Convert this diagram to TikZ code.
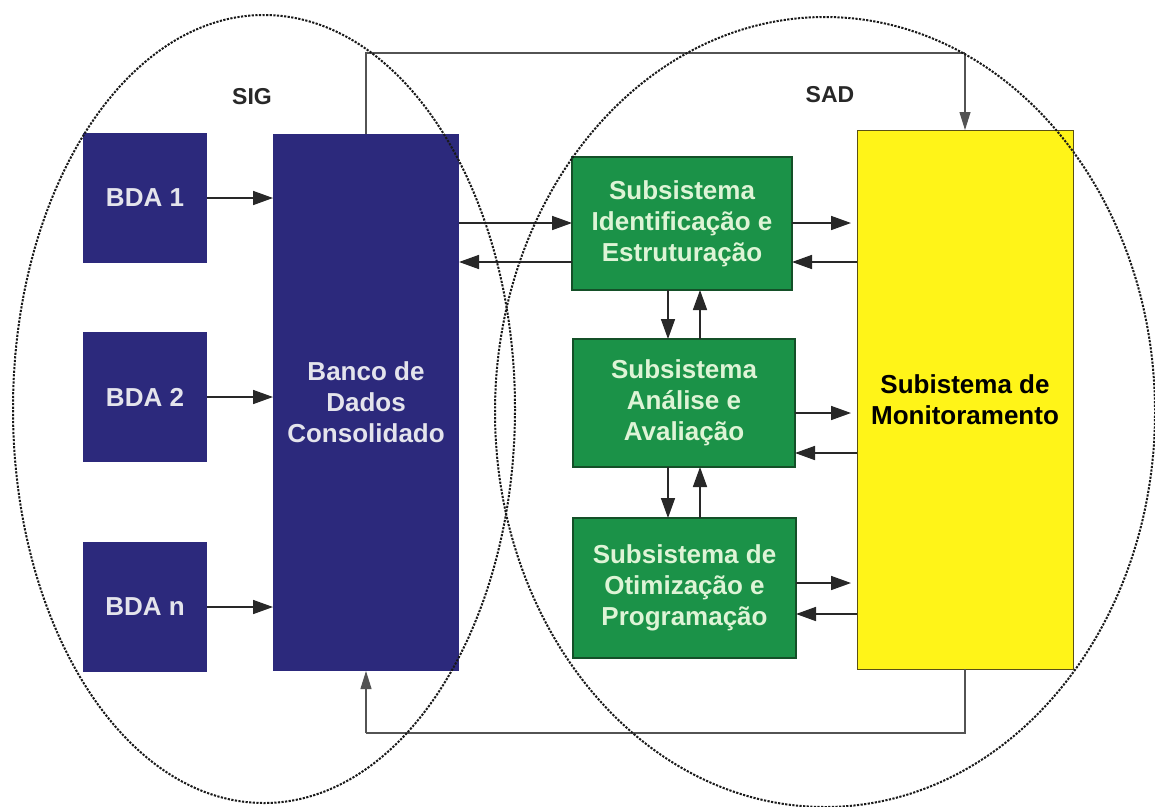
\documentclass[tikz,border=0pt]{standalone}
\usepackage{fontspec}
\setmainfont{Liberation Sans}
\usetikzlibrary{arrows.meta}

\definecolor{navybox}{RGB}{44,41,124}
\definecolor{greenbox}{RGB}{27,146,72}
\definecolor{greenedge}{RGB}{20,80,40}
\definecolor{yellowbox}{RGB}{255,244,24}
\definecolor{yellowedge}{RGB}{90,80,20}
\definecolor{lighttxt}{RGB}{228,228,236}
\definecolor{greentxt}{RGB}{222,244,214}
\definecolor{inkline}{RGB}{40,40,40}

\tikzset{
  boxtext/.style={font=\fontsize{26}{31}\selectfont\bfseries, align=center, inner sep=0pt, outer sep=0pt},
  navy/.style={boxtext, fill=navybox, text=lighttxt, minimum width=#1},
  bdabox/.style={navy=124pt, minimum height=130pt},
  greenblock/.style={boxtext, fill=greenbox, draw=greenedge, line width=1.2pt, text=greentxt},
  yellowblock/.style={boxtext, fill=yellowbox, draw=yellowedge, line width=1pt, text=black},
  arr/.style={draw=inkline, line width=1.6pt, -{Triangle[length=20pt,width=14pt]}},
  thinarr/.style={draw=inkline!80, line width=1.1pt, -{Triangle[length=18pt,width=11pt]}},
  thinline/.style={draw=inkline!80, line width=1.1pt},
  region/.style={draw=black!90, line width=2pt, dash pattern=on 2.2pt off 1.4pt},
  regionlabel/.style={font=\fontsize{23}{27}\selectfont\bfseries, text=inkline}
}

\begin{document}
\begin{tikzpicture}[x=1pt,y=-1pt]
  \useasboundingbox (0,0) rectangle (1155,806);
  \fill[white] (0,0) rectangle (1155,806);

  % source databases
  \node[bdabox] (bda1) at (145,198) {BDA 1};
  \node[bdabox] (bda2) at (145,397) {BDA 2};
  \node[bdabox] (bdan) at (145,607) {BDA n};

  % consolidated database
  \node[navy=186pt, minimum height=537pt] (banco) at (366,402.5) {Banco de\\Dados\\Consolidado};

  % decision support subsystems
  \node[greenblock, minimum width=220pt, minimum height=133pt] (ident) at (682,223.5) {Subsistema\\Identificação e\\Estruturação};
  \node[greenblock, minimum width=222pt, minimum height=128pt] (anal) at (684,403) {Subsistema\\Análise e\\Avaliação};
  \node[greenblock, minimum width=223pt, minimum height=140pt] (otim) at (684.5,588) {Subsistema de\\Otimização e\\Programação};

  % monitoring subsystem
  \node[yellowblock, minimum width=216pt, minimum height=539pt] (monit) at (965,399.5) {Subistema de\\Monitoramento};

  % region labels
  \node[regionlabel] (sig) at (252,97) {SIG};
  \node[regionlabel] (sad) at (830,95) {SAD};

  % databases feeding the consolidated base
  \draw[arr] (bda1.east) -- (bda1.east -| banco.west);
  \draw[arr] (bda2.east) -- (bda2.east -| banco.west);
  \draw[arr] (bdan.east) -- (bdan.east -| banco.west);

  % consolidated base <-> identification
  \draw[arr] (banco.east |- 0,223) -- (ident.west |- 0,223);
  \draw[arr] (ident.west |- 0,262) -- (banco.east |- 0,262);

  % subsystems <-> monitoring
  \draw[arr] (ident.east |- 0,223) -- ([xshift=-6pt]monit.west |- 0,223);
  \draw[arr] (monit.west |- 0,262) -- (ident.east |- 0,262);
  \draw[arr] (anal.east |- 0,413) -- ([xshift=-6pt]monit.west |- 0,413);
  \draw[arr] (monit.west |- 0,453) -- (anal.east |- 0,453);
  \draw[arr] (otim.east |- 0,583) -- ([xshift=-6pt]monit.west |- 0,583);
  \draw[arr] (monit.west |- 0,614) -- (otim.east |- 0,614);

  % vertical links between subsystems
  \draw[arr] (ident.south -| 668,0) -- (anal.north -| 668,0);
  \draw[arr] (anal.north -| 700,0) -- (ident.south -| 700,0);
  \draw[arr] (anal.south -| 668,0) -- (otim.north -| 668,0);
  \draw[arr] (otim.north -| 700,0) -- (anal.south -| 700,0);

  % feedback loops between SIG and SAD
  \coordinate (topway) at (0,53);
  \coordinate (botway) at (0,733);
  \draw[thinline] (banco.north) -- (banco.north |- topway) -- (monit.north |- topway);
  \draw[thinarr] (monit.north |- topway) -- (monit.north);
  \draw[thinline] (monit.south) -- (monit.south |- botway) -- (banco.south |- botway);
  \draw[thinarr] (banco.south |- botway) -- (banco.south);

  % SIG and SAD regions
  \draw[region] (264,409) ellipse [x radius=251, y radius=394];
  \draw[region] (825,412) ellipse [x radius=330, y radius=395];
\end{tikzpicture}
\end{document}
